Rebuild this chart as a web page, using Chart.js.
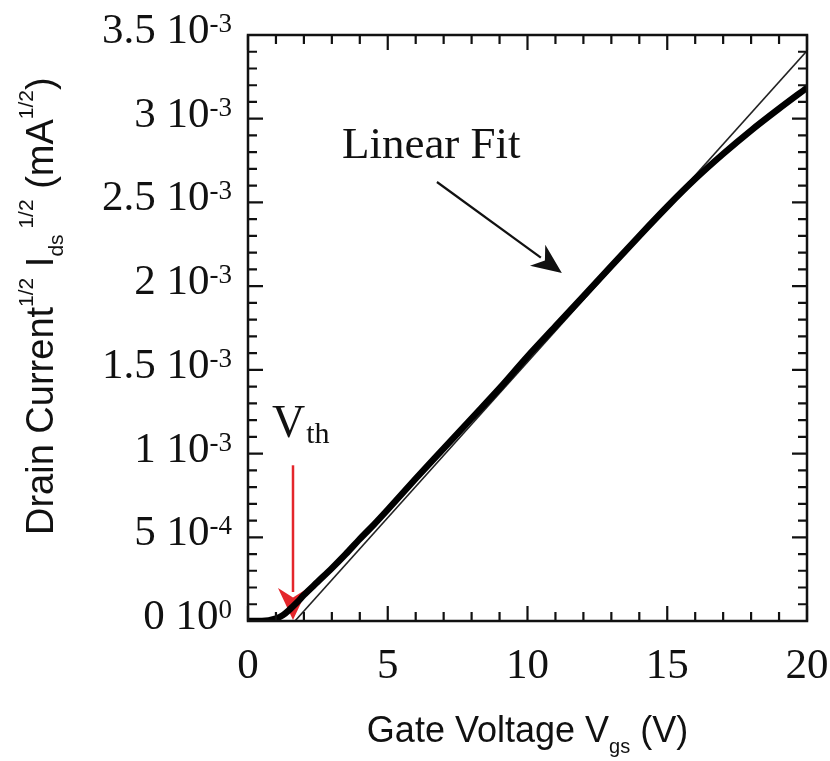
<!DOCTYPE html>
<html>
<head>
<meta charset="utf-8">
<title>Transfer characteristic</title>
<script src="https://cdn.jsdelivr.net/npm/chart.js@4/dist/chart.umd.min.js"></script>
<style>
  html, body { margin: 0; padding: 0; background: #fff; }
  canvas { display: block; }
</style>
</head>
<body>
<canvas id="chart" width="830" height="761"></canvas>
<script>
// Measured sqrt(Ids) vs gate voltage, in units of 10^-3 mA^1/2
const gateVoltage = [0, 0.5, 1, 1.25, 1.5, 1.75, 2, 2.5, 3, 3.5, 4, 4.5, 5, 6, 7, 8, 9, 10, 11, 12, 13, 14, 15, 16, 17, 18, 19, 20];
const sqrtCurrent = [0, 0, 0.015, 0.035, 0.07, 0.11, 0.155, 0.235, 0.315, 0.40, 0.49, 0.575, 0.665, 0.85, 1.03, 1.21, 1.39, 1.58, 1.76, 1.94, 2.12, 2.30, 2.475, 2.64, 2.79, 2.93, 3.06, 3.185];

// Linear fit of the saturation region (x-intercept = Vth)
const fitVoltage = [1.68, 20];
const fitCurrent = [0, 3.405];
const thresholdVoltage = 1.61;

// Axis ticks
const xTickValues = [0, 5, 10, 15, 20];
const yTickValues = [0, 0.5, 1, 1.5, 2, 2.5, 3, 3.5];
const yTickMantissa = ['0', '5', '1', '1.5', '2', '2.5', '3', '3.5'];
const yTickExponent = ['0', '-4', '-3', '-3', '-3', '-3', '-3', '-3'];

const SERIF = '"Liberation Serif", "Times New Roman", serif';
const SANS = '"Liberation Sans", Arial, sans-serif';

// draw a line with a filled arrow head at the end point
function arrow(ctx, x1, y1, x2, y2, color, width, headLen, headHalf) {
    const dx = x2 - x1, dy = y2 - y1;
    const len = Math.hypot(dx, dy);
    const ux = dx / len, uy = dy / len;
    const bx = x2 - ux * headLen, by = y2 - uy * headLen;
    ctx.save();
    ctx.strokeStyle = color;
    ctx.fillStyle = color;
    ctx.lineWidth = width;
    ctx.beginPath();
    ctx.moveTo(x1, y1);
    ctx.lineTo(bx + ux * 4, by + uy * 4);
    ctx.stroke();
    ctx.beginPath();
    ctx.moveTo(x2, y2);
    ctx.lineTo(bx - uy * headHalf, by + ux * headHalf);
    ctx.lineTo(bx + ux * headLen * 0.3, by + uy * headLen * 0.3);
    ctx.lineTo(bx + uy * headHalf, by - ux * headHalf);
    ctx.closePath();
    ctx.fill();
    ctx.restore();
}

// Vth marker goes under the curves
const thresholdArrow = {
    id: 'thresholdArrow',
    beforeDatasetsDraw(chart) {
        const { ctx, scales: { x, y } } = chart;
        const px = x.getPixelForValue(thresholdVoltage);
        arrow(ctx, px, y.getPixelForValue(0.93), px, y.getPixelForValue(0) - 1, '#e4262b', 2.5, 32, 15);
    }
};

// box frame, inside ticks on all four sides, tick labels, titles, annotations
const frame = {
    id: 'frame',
    afterDraw(chart) {
        const { ctx, chartArea: a, scales: { x, y } } = chart;
        ctx.save();
        ctx.strokeStyle = '#111';
        ctx.lineWidth = 2.5;
        ctx.strokeRect(a.left, a.top, a.right - a.left, a.bottom - a.top);

        ctx.lineWidth = 2.2;
        ctx.beginPath();
        for (let v = 0; v <= 20; v++) {
            const px = x.getPixelForValue(v);
            const len = v % 5 === 0 ? 15 : 9;
            ctx.moveTo(px, a.bottom); ctx.lineTo(px, a.bottom - len);
            ctx.moveTo(px, a.top); ctx.lineTo(px, a.top + len);
        }
        for (let i = 0; i <= 35; i++) {
            const py = y.getPixelForValue(i / 10);
            const len = i % 5 === 0 ? 15 : 9;
            ctx.moveTo(a.left, py); ctx.lineTo(a.left + len, py);
            ctx.moveTo(a.right, py); ctx.lineTo(a.right - len, py);
        }
        ctx.stroke();

        // x tick labels
        ctx.fillStyle = '#111';
        ctx.font = '43px ' + SERIF;
        ctx.textAlign = 'center';
        ctx.textBaseline = 'alphabetic';
        xTickValues.forEach(v => {
            ctx.fillText(String(v), x.getPixelForValue(v), a.bottom + 57);
        });

        // y tick labels: "m 10^e"
        const labelRight = a.left - 16;
        yTickValues.forEach((v, i) => {
            const py = y.getPixelForValue(v);
            ctx.font = '27px ' + SERIF;
            ctx.textAlign = 'right';
            const expW = ctx.measureText(yTickExponent[i]).width;
            ctx.fillText(yTickExponent[i], labelRight, py - 3);
            ctx.font = '43px ' + SERIF;
            ctx.fillText(yTickMantissa[i] + ' 10', labelRight - expW, py + 8);
        });

        // x axis title
        ctx.textAlign = 'left';
        const xt1 = 'Gate Voltage V', xt2 = 'gs', xt3 = ' (V)';
        ctx.font = '36px ' + SANS;
        const w1 = ctx.measureText(xt1).width, w3 = ctx.measureText(xt3).width;
        ctx.font = '20px ' + SANS;
        const w2 = ctx.measureText(xt2).width;
        let tx = (a.left + a.right) / 2 - (w1 + w2 + w3) / 2;
        const tb = 742;
        ctx.font = '36px ' + SANS; ctx.fillText(xt1, tx, tb); tx += w1;
        ctx.font = '20px ' + SANS; ctx.fillText(xt2, tx, tb + 11); tx += w2;
        ctx.font = '36px ' + SANS; ctx.fillText(xt3, tx, tb);

        // y axis title, rotated
        ctx.save();
        ctx.translate(53, 535);
        ctx.rotate(-Math.PI / 2);
        const parts = [
            ['Drain Current', 38, 0],
            ['1/2', 21, -20],
            [' I', 38, 0],
            ['ds', 21, 10],
            [' 1/2', 21, -20],
            [' (mA', 38, 0],
            ['1/2', 21, -20],
            [')', 38, 0]
        ];
        let ox = 0;
        parts.forEach(([t, size, dy]) => {
            ctx.font = size + 'px ' + SANS;
            ctx.fillText(t, ox, dy);
            ox += ctx.measureText(t).width;
        });
        ctx.restore();

        // Vth label
        const vx = x.getPixelForValue(0.86), vy = y.getPixelForValue(1.099);
        ctx.font = '46px ' + SERIF;
        ctx.fillText('V', vx, vy);
        const vw = ctx.measureText('V').width;
        ctx.font = '30px ' + SERIF;
        ctx.fillText('th', vx + vw + 1, vy + 6);

        // Linear Fit label and pointer
        ctx.font = '45px ' + SERIF;
        ctx.fillText('Linear Fit', x.getPixelForValue(3.36), y.getPixelForValue(2.766));
        arrow(ctx, x.getPixelForValue(6.76), y.getPixelForValue(2.622),
              x.getPixelForValue(11.23), y.getPixelForValue(2.079), '#111', 2.2, 30, 13);
        ctx.restore();
    }
};

new Chart(document.getElementById('chart'), {
    type: 'line',
    data: {
        datasets: [
            {
                label: 'Ids^1/2',
                data: gateVoltage.map((v, i) => ({ x: v, y: sqrtCurrent[i] })),
                borderColor: '#000',
                borderWidth: 6.5,
                borderCapStyle: 'round',
                borderJoinStyle: 'round',
                cubicInterpolationMode: 'monotone',
                pointRadius: 0,
                fill: false
            },
            {
                label: 'Linear Fit',
                data: fitVoltage.map((v, i) => ({ x: v, y: fitCurrent[i] })),
                borderColor: '#222',
                borderWidth: 1.6,
                pointRadius: 0,
                fill: false
            }
        ]
    },
    options: {
        responsive: false,
        devicePixelRatio: 1,
        animation: false,
        layout: { padding: { left: 248, top: 35, right: 23, bottom: 140 } },
        plugins: { legend: { display: false }, tooltip: { enabled: false } },
        scales: {
            x: { type: 'linear', min: 0, max: 20, display: false },
            y: { type: 'linear', min: 0, max: 3.5, display: false }
        }
    },
    plugins: [thresholdArrow, frame]
});
</script>
</body>
</html>
